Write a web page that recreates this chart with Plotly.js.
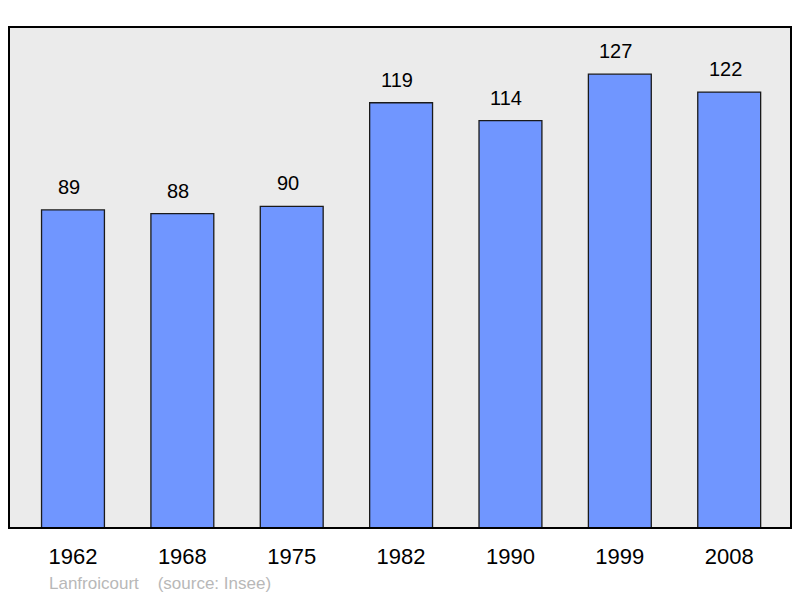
<!DOCTYPE html>
<html><head><meta charset="utf-8">
<script src="https://cdn.plot.ly/plotly-3.0.1.min.js"></script>
<style>html,body{margin:0;padding:0;background:#fff;}#chart{width:800px;height:598px;}</style>
</head><body><div id="chart"></div>
<script>
const years = ["1962","1968","1975","1982","1990","1999","2008"];
const population = [89,88,90,119,114,127,122];
const sourceText = "Lanfroicourt\u00a0\u00a0\u00a0\u00a0(source: Insee)";

const annotations = years.map((y,i)=>({
  x: i, y: population[i], xref:'x', yref:'y', text: String(population[i]),
  showarrow:false, yanchor:'middle', yshift:23, xshift:-4,
  font:{family:'Liberation Sans, Arial, sans-serif', size:20, color:'#000'}
}));
annotations.push({
  xref:'paper', yref:'paper', x:(47-9)/782, y:-(583-528)/501, xanchor:'left', yanchor:'middle',
  text: sourceText, showarrow:false,
  font:{family:'Liberation Sans, Arial, sans-serif', size:17, color:'#b8b8b8'}
});

Plotly.newPlot('chart', [{
  type:'bar', x: years, y: population, width:0.575,
  marker:{color:'#7096ff', line:{color:'#1a1a1a', width:1.3}},
  hoverinfo:'skip'
}], {
  width:800, height:598,
  margin:{l:9, r:9, t:27, b:70, pad:0},
  paper_bgcolor:'#ffffff', plot_bgcolor:'#ebebeb',
  showlegend:false,
  xaxis:{type:'category', range:[-0.585,6.565], showgrid:false, zeroline:false, showline:false,
    ticks:'outside', ticklen:9, tickcolor:'rgba(0,0,0,0)',
    tickfont:{family:'Liberation Sans, Arial, sans-serif', size:22, color:'#000'}},
  yaxis:{range:[0,140.2], showgrid:false, zeroline:false, showline:false, showticklabels:false, ticks:''},
  annotations: annotations,
  shapes:[{type:'rect', xref:'paper', yref:'paper', x0:0, x1:1, y0:0, y1:1,
    line:{color:'#000', width:2}, fillcolor:'rgba(0,0,0,0)'}]
}, {staticPlot:true});
</script></body></html>
